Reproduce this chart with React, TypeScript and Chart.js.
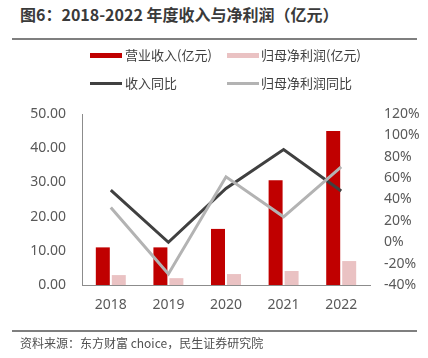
import React, { useEffect, useRef } from "react";
import { Chart, registerables } from "chart.js";

Chart.register(...registerables);

const categories = ["2018", "2019", "2020", "2021", "2022"];
const revenue = [11.0, 11.0, 16.4, 30.6, 45.0];
const netProfit = [2.9, 2.0, 3.2, 4.1, 7.0];
const revenueYoY = [48.8, 0, 50.4, 86.8, 47.9];
const profitYoY = [32.6, -29.7, 61.2, 23.8, 70.6];
const leftTicks = { min: 0, max: 50, step: 10 };
const rightTicks = { min: -40, max: 120, step: 20 };

const W = 428;
const H = 358;
const FONT = "'Noto Sans CJK SC', 'Noto Sans', sans-serif";
const TICK_FONT = "'Noto Sans', 'Open Sans', sans-serif";

export default function App() {
  const ref = useRef<HTMLCanvasElement | null>(null);

  useEffect(() => {
    if (!ref.current) return;
    const chart = new Chart(ref.current, {
      type: "bar",
      data: {
        labels: categories,
        datasets: [
          {
            type: "line",
            label: "归母净利润同比",
            data: profitYoY,
            borderColor: "#b3b3b3",
            backgroundColor: "#b3b3b3",
            borderWidth: 3,
            pointRadius: 0,
            tension: 0,
            yAxisID: "y1",
            order: 0,
          },
          {
            type: "line",
            label: "收入同比",
            data: revenueYoY,
            borderColor: "#404040",
            backgroundColor: "#404040",
            borderWidth: 3,
            pointRadius: 0,
            tension: 0,
            yAxisID: "y1",
            order: 1,
          },
          {
            type: "bar",
            label: "营业收入(亿元)",
            data: revenue,
            backgroundColor: "#C00000",
            yAxisID: "y",
            order: 2,
            categoryPercentage: 0.555,
            barPercentage: 0.875,
          },
          {
            type: "bar",
            label: "归母净利润(亿元)",
            data: netProfit,
            backgroundColor: "#EAC2C3",
            yAxisID: "y",
            order: 3,
            categoryPercentage: 0.555,
            barPercentage: 0.875,
          },
        ],
      },
      options: {
        responsive: false,
        animation: false,
        layout: { padding: { top: 114, left: 0, right: 0, bottom: 0 } },
        plugins: {
          legend: { display: false },
          tooltip: { enabled: false },
          title: { display: false },
        },
        scales: {
          x: {
            type: "category",
            offset: true,
            grid: { display: false, drawTicks: false },
            border: { display: true, color: "#8c8c8c", width: 1 },
            ticks: {
              color: "#595959",
              font: { size: 14, family: TICK_FONT },
              padding: 12,
              maxRotation: 0,
            },
            afterFit: (s: any) => {
              s.height = H - 285;
            },
          },
          y: {
            position: "left",
            min: leftTicks.min,
            max: leftTicks.max,
            grid: { display: false, drawTicks: false },
            border: { display: true, color: "#8c8c8c", width: 1 },
            ticks: {
              stepSize: leftTicks.step,
              color: "#595959",
              font: { size: 14, family: TICK_FONT },
              padding: 16,
              callback: (v: any) => Number(v).toFixed(2),
            },
            afterFit: (s: any) => {
              s.width = 82;
            },
          },
          y1: {
            position: "right",
            min: rightTicks.min,
            max: rightTicks.max,
            grid: { display: false, drawTicks: false },
            border: { display: false },
            ticks: {
              stepSize: rightTicks.step,
              color: "#595959",
              font: { size: 14, family: TICK_FONT },
              padding: 14,
              callback: (v: any) => `${v}%`,
            },
            afterFit: (s: any) => {
              s.width = W - 370;
            },
          },
        },
      },
    } as any);
    return () => chart.destroy();
  }, []);

  const legendText: React.CSSProperties = {
    position: "absolute",
    fontSize: 13,
    color: "#404040",
    fontFamily: FONT,
    lineHeight: "16px",
    whiteSpace: "nowrap",
  };

  const marker = (
    left: number,
    cy: number,
    h: number,
    color: string
  ): React.CSSProperties => ({
    position: "absolute",
    left,
    top: cy - h / 2,
    width: 32,
    height: h,
    background: color,
  });

  return (
    <div
      style={{
        position: "fixed",
        left: 0,
        top: 0,
        width: W,
        height: H,
        background: "#fff",
        overflow: "hidden",
      }}
    >
      <div
        style={{
          position: "absolute",
          left: 20,
          top: 3,
          fontSize: 16,
          fontWeight: "bold",
          color: "#3a3a3a",
          fontFamily: FONT,
          lineHeight: "22px",
          whiteSpace: "nowrap",
        }}
      >
        图6：2018-2022 年度收入与净利润（亿元）
      </div>
      <div
        style={{
          position: "absolute",
          left: 12,
          top: 38,
          width: 405,
          height: 2,
          background: "#7f7f7f",
        }}
      />
      <canvas
        ref={ref}
        width={W}
        height={H}
        style={{ position: "absolute", left: 0, top: 0, width: W, height: H }}
      />
      <div style={marker(90, 55, 5, "#C00000")} />
      <div style={{ ...legendText, left: 125, top: 47 }}>营业收入(亿元)</div>
      <div style={marker(227, 55, 5, "#EAC2C3")} />
      <div style={{ ...legendText, left: 261, top: 47 }}>归母净利润(亿元)</div>
      <div style={marker(90, 83, 3, "#404040")} />
      <div style={{ ...legendText, left: 125, top: 75 }}>收入同比</div>
      <div style={marker(227, 83, 3, "#b3b3b3")} />
      <div style={{ ...legendText, left: 261, top: 75 }}>归母净利润同比</div>
      <div
        style={{
          position: "absolute",
          left: 12,
          top: 330,
          width: 405,
          height: 1.5,
          background: "#7f7f7f",
        }}
      />
      <div
        style={{
          position: "absolute",
          left: 20,
          top: 335,
          fontSize: 12,
          color: "#505050",
          fontFamily: FONT,
          lineHeight: "16px",
          whiteSpace: "nowrap",
        }}
      >
        资料来源：东方财富 choice，民生证券研究院
      </div>
    </div>
  );
}
